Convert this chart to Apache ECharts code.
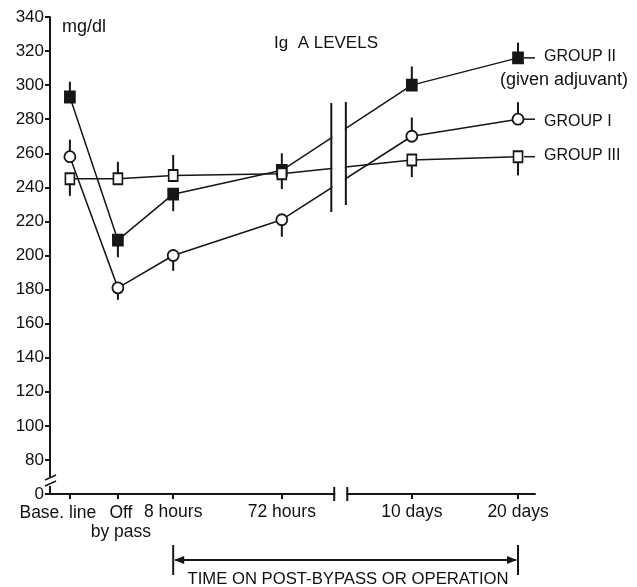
<!DOCTYPE html>
<html>
<head>
<meta charset="utf-8">
<script src="https://cdn.jsdelivr.net/npm/echarts@6/dist/echarts.min.js"></script>
<style>
  html, body { margin: 0; padding: 0; background: #fff; }
  #main { width: 637px; height: 587px; }
</style>
</head>
<body>
<div id="main"></div>
<script>
(function () {
	// time points, placed along a schematic (non linear) time axis
	var categories = ['Base. line', 'Off\nby pass', '8 hours', '72 hours', '10 days', '20 days'];
	var timeSlot = [4.1, 14.0, 25.4, 47.8, 74.6, 96.5];

	// Ig A mg/dl, and the end of each one-sided error bar
	var group1 = [258, 181, 200, 221, 270, 280];
	var group1Err = [268, 174, 191, 211, 281, 290];
	var group2 = [293, 209, 236, 250, 300, 316];
	var group2Err = [302, 199, 226, 260, 311, 325];
	var group3 = [245, 245, 247, 248, 256, 258];
	var group3Err = [235, 255, 259, 239, 246, 247];

	var groupNames = ['GROUP I', 'GROUP II', 'GROUP III'];

	var FONT = 'Liberation Sans';
	var INK = '#161616';

	var chart = echarts.init(document.getElementById('main'));

	function pts(vals) {
		return vals.map(function (v, i) { return [timeSlot[i], v]; });
	}
	function bars(vals, ends) {
		return vals.map(function (v, i) { return [timeSlot[i], v, ends[i]]; });
	}
	function errSeries(vals, ends) {
		return {
			type: 'custom',
			z: 1,
			silent: true,
			data: bars(vals, ends),
			encode: { x: 0, y: [1, 2] },
			renderItem: function (params, api) {
				var p0 = api.coord([api.value(0), api.value(1)]);
				var p1 = api.coord([api.value(0), api.value(2)]);
				return {
					type: 'line',
					shape: { x1: p0[0], y1: p0[1], x2: p1[0], y2: p1[1] },
					style: { stroke: INK, lineWidth: 2 }
				};
			}
		};
	}
	function lineSeries(name, vals, symbol, size, fill) {
		return {
			name: name,
			type: 'line',
			z: 3,
			data: pts(vals),
			symbol: symbol,
			symbolSize: size,
			showAllSymbol: true,
			lineStyle: { color: INK, width: 1.5 },
			itemStyle: { color: fill, borderColor: INK, borderWidth: 1.8 },
			emphasis: { disabled: true },
			animation: false
		};
	}

	chart.setOption({
		backgroundColor: '#fff',
		animation: false,
		grid: { left: 50, right: 102, top: 17, bottom: 93 },
		xAxis: {
			type: 'value',
			min: 0,
			max: 100,
			splitLine: { show: false },
			axisLine: { show: true, lineStyle: { color: INK, width: 2 } },
			axisTick: { show: true, length: 5, customValues: timeSlot, lineStyle: { color: INK, width: 2 } },
			axisLabel: {
				// the two crowded labels on the left are placed by hand below
				customValues: timeSlot.slice(2),
				hideOverlap: false,
				showMinLabel: true,
				showMaxLabel: true,
				margin: 9,
				color: '#111',
				fontFamily: FONT,
				fontSize: 17.5,
				formatter: function (v) {
					var i = timeSlot.indexOf(v);
					return i < 0 ? '' : categories[i];
				}
			}
		},
		yAxis: {
			type: 'value',
			min: 60,
			max: 340,
			interval: 20,
			splitLine: { show: false },
			axisLine: { show: true, lineStyle: { color: INK, width: 2 } },
			axisTick: { show: true, inside: false, length: 5, lineStyle: { color: INK, width: 2 } },
			axisLabel: {
				margin: 6,
				color: '#111',
				fontFamily: FONT,
				fontSize: 17,
				formatter: function (v) { return v === 60 ? '0' : String(v); }
			}
		},
		series: [
			errSeries(group1, group1Err),
			errSeries(group2, group2Err),
			errSeries(group3, group3Err),
			lineSeries(groupNames[0], group1, 'circle', 11, '#fff'),
			lineSeries(groupNames[1], group2, 'rect', [10, 11], INK),
			lineSeries(groupNames[2], group3, 'rect', [9, 11], '#fff')
		]
	});

	// decorations: breaks, labels, bracket
	function px(x, y) { return chart.convertToPixel({ gridIndex: 0 }, [x, y]); }
	var g = [];
	var axisY = px(0, 60)[1];
	var labelFont = '17.5px "' + FONT + '"';

	// "Base. line" sits left of its tick, clear of "Off"
	var x0 = px(timeSlot[0], 60)[0];
	var x1 = px(timeSlot[1], 60)[0];
	g.push({ type: 'text', z: 51, x: x0 - 12, y: axisY + 10, style: { text: categories[0], font: labelFont, fill: '#111', align: 'center', verticalAlign: 'top' } });
	g.push({ type: 'text', z: 51, x: x1 + 3, y: axisY + 10, style: { text: categories[1], font: labelFont, lineHeight: 19, fill: '#111', align: 'center', verticalAlign: 'top' } });

	// break in the plotted lines
	var bl = px(58, 0)[0], br = px(61, 0)[0];
	g.push({ type: 'rect', z: 50, shape: { x: bl + 1, y: 95, width: br - bl - 2, height: 122 }, style: { fill: '#fff' } });
	g.push({ type: 'line', z: 51, shape: { x1: bl, y1: 103, x2: bl, y2: 212 }, style: { stroke: INK, lineWidth: 2 } });
	g.push({ type: 'line', z: 51, shape: { x1: br, y1: 102, x2: br, y2: 205 }, style: { stroke: INK, lineWidth: 2 } });

	// break in the x axis
	var al = px(58.6, 0)[0], ar = px(61.3, 0)[0];
	g.push({ type: 'rect', z: 50, shape: { x: al + 1, y: axisY - 3, width: ar - al - 2, height: 6 }, style: { fill: '#fff' } });
	g.push({ type: 'line', z: 51, shape: { x1: al, y1: axisY - 7, x2: al, y2: axisY + 7 }, style: { stroke: INK, lineWidth: 2 } });
	g.push({ type: 'line', z: 51, shape: { x1: ar, y1: axisY - 7, x2: ar, y2: axisY + 7 }, style: { stroke: INK, lineWidth: 2 } });

	// break in the y axis
	g.push({ type: 'rect', z: 50, shape: { x: 47, y: axisY - 17, width: 6, height: 9 }, style: { fill: '#fff' } });
	g.push({ type: 'line', z: 51, shape: { x1: 45, y1: axisY - 14, x2: 56, y2: axisY - 19 }, style: { stroke: INK, lineWidth: 1.5 } });
	g.push({ type: 'line', z: 51, shape: { x1: 45, y1: axisY - 8, x2: 56, y2: axisY - 13 }, style: { stroke: INK, lineWidth: 1.5 } });

	// group labels at the line ends
	var last = timeSlot.length - 1;
	var ends = [group1[last], group2[last], group3[last]];
	var offs = [2, -1, -1];
	for (var k = 0; k < 3; k++) {
		var p = px(timeSlot[last], ends[k]);
		g.push({ type: 'line', z: 51, shape: { x1: p[0] + 6, y1: p[1], x2: p[0] + 17, y2: p[1] }, style: { stroke: INK, lineWidth: 1.5 } });
		g.push({ type: 'text', z: 51, x: p[0] + 26, y: p[1] + offs[k], style: { text: groupNames[k], font: '16px "' + FONT + '"', fill: '#111', verticalAlign: 'middle' } });
	}
	var p2 = px(timeSlot[last], group2[last]);
	g.push({ type: 'text', z: 51, x: 628, y: p2[1] + 22, style: { text: '(given adjuvant)', font: '18px "' + FONT + '"', fill: '#111', align: 'right', verticalAlign: 'middle' } });

	// titles
	g.push({ type: 'text', z: 51, x: 326, y: 43, style: { text: 'Ig  A LEVELS', font: '17px "' + FONT + '"', fill: '#111', align: 'center', verticalAlign: 'middle' } });
	g.push({ type: 'text', z: 51, x: 62, y: 27, style: { text: 'mg/dl', font: '18px "' + FONT + '"', fill: '#111', verticalAlign: 'middle' } });

	// bracket under the axis
	var xa = px(timeSlot[2], 0)[0], xb = px(timeSlot[last], 0)[0];
	var yb = 560;
	g.push({ type: 'line', z: 51, shape: { x1: xa, y1: 545, x2: xa, y2: 575 }, style: { stroke: INK, lineWidth: 2 } });
	g.push({ type: 'line', z: 51, shape: { x1: xb, y1: 545, x2: xb, y2: 575 }, style: { stroke: INK, lineWidth: 2 } });
	g.push({ type: 'line', z: 51, shape: { x1: xa + 2, y1: yb, x2: xb - 2, y2: yb }, style: { stroke: INK, lineWidth: 2 } });
	g.push({ type: 'polygon', z: 51, shape: { points: [[xa + 1, yb], [xa + 11, yb - 4], [xa + 11, yb + 4]] }, style: { fill: INK } });
	g.push({ type: 'polygon', z: 51, shape: { points: [[xb - 1, yb], [xb - 11, yb - 4], [xb - 11, yb + 4]] }, style: { fill: INK } });
	g.push({ type: 'text', z: 51, x: 348, y: 579, style: { text: 'TIME ON POST-BYPASS OR OPERATION', font: '16.7px "' + FONT + '"', fill: '#111', align: 'center', verticalAlign: 'middle' } });

	chart.setOption({ graphic: { elements: g } });
})();
</script>
</body>
</html>
